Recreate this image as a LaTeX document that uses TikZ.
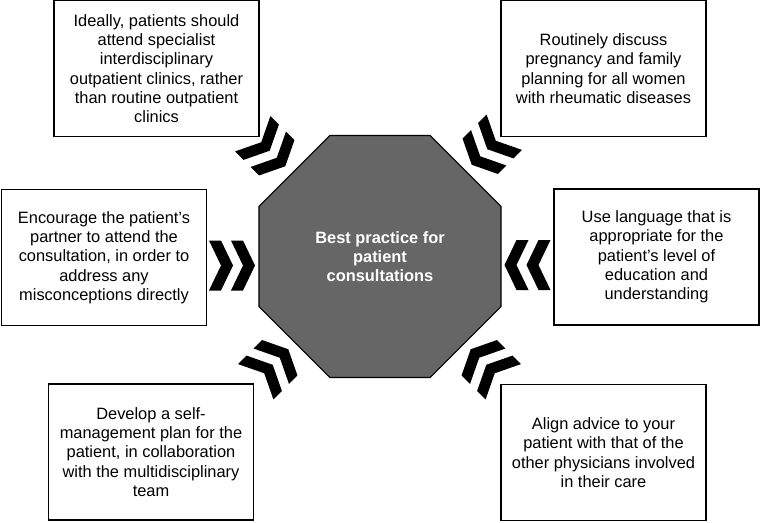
\documentclass[tikz,border=0pt]{standalone}
\usepackage{fontspec}
\setmainfont{Liberation Sans}
\usepackage{xcolor}
\usetikzlibrary{shapes.geometric}

\definecolor{hubgray}{RGB}{102,102,102}

\tikzset{
  tipbox/.style={draw, line width=1.4pt, minimum width=153.75pt, minimum height=102pt,
    inner sep=0pt, align=center, font=\fontsize{12.3}{14.5}\selectfont},
  hub/.style={regular polygon, regular polygon sides=8, minimum size=196.5pt,
    draw, line width=0.8pt, fill=hubgray, text=white, inner sep=0pt, align=center,
    font=\bfseries\fontsize{12.3}{14}\selectfont},
  pics/chevpair/.style={code={
    \foreach \d in {-11,11}
      \fill ({\d-12},-25) -- (\d,-25) -- ({\d+12},0) -- (\d,25) -- ({\d-12},25) -- (\d,0) -- cycle;
  }}
}

\begin{document}
\begin{tikzpicture}[x=0.75pt,y=0.75pt,yscale=-1,xscale=1]
\useasboundingbox (0,0) rectangle (761,522);

% Octagon
\node [hub] (hub) at (380,256.5) {Best practice for\\patient\\consultations};

% Text Node
\node [tipbox] (ideal) at (156.5,68.5) {Ideally, patients should\\attend specialist\\interdisciplinary\\outpatient clinics, rather\\than routine outpatient\\clinics};
% Text Node
\node [tipbox] (family) at (603.5,68.5) {Routinely discuss\\pregnancy and family\\planning for all women\\with rheumatic diseases};
% Text Node
\node [tipbox] (partner) at (104,257.5) {Encourage the patient’s\\partner to attend the\\consultation, in order to\\address any\\misconceptions directly};
% Text Node
\node [tipbox] (language) at (656.5,257) {Use language that is\\appropriate for the\\patient’s level of\\education and\\understanding};
% Text Node
\node [tipbox] (selfplan) at (151,452) {Develop a self-\\management plan for the\\patient, in collaboration\\with the multidisciplinary\\team};
% Text Node
\node [tipbox] (advice) at (603.5,452.5) {Align advice to your\\patient with that of the\\other physicians involved\\in their care};

% Chevrons
\foreach \cx/\cy/\rot in {232/265.5/0, 527.5/265/180, 269/150/-45, 488/148.5/-135, 272/365.5/45, 487/365.5/135}
  \pic [rotate=\rot] at (\cx,\cy) {chevpair};

\end{tikzpicture}
\end{document}
